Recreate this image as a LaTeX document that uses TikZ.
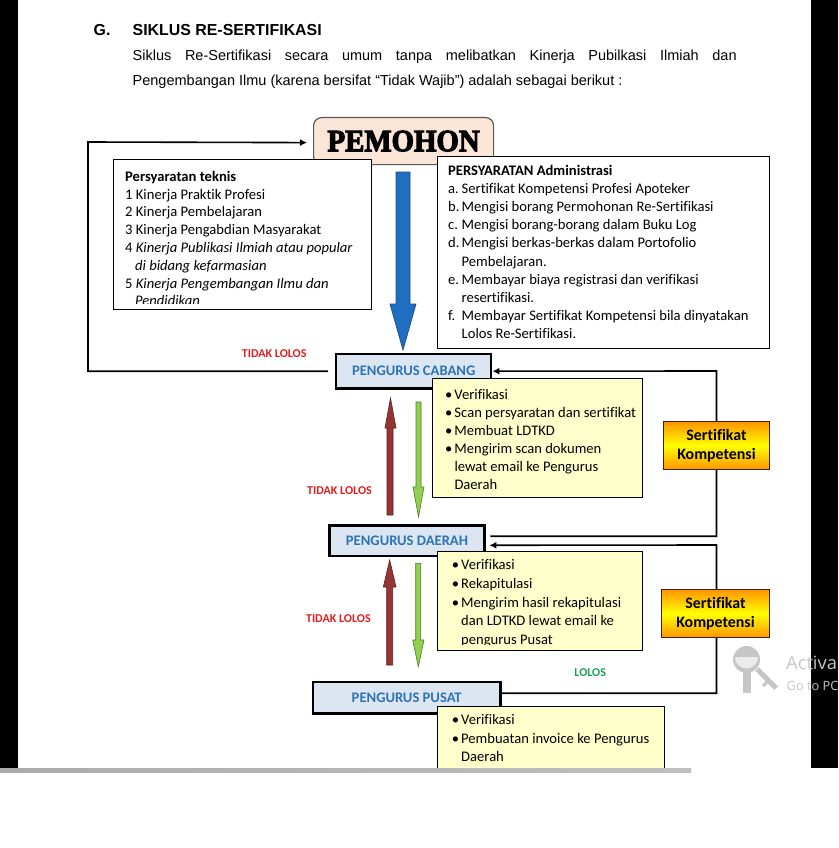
\documentclass[tikz,border=0pt]{standalone}
\usepackage{fontspec}
\setmainfont{Carlito}[Ligatures=NoCommon]
\newfontfamily\hdrfont{Liberation Sans}
\newfontfamily\pemfont{Liberation Serif}[FakeBold=3.5, FakeStretch=0.93]
\newfontfamily\wmfont{Open Sans}
\usetikzlibrary{arrows.meta}
\definecolor{peach}{HTML}{FBE5D6}
\definecolor{lblue}{HTML}{DCE6F2}
\definecolor{tblue}{HTML}{2E74B5}
\definecolor{noteY}{HTML}{FFFFCC}
\definecolor{tred}{HTML}{E02020}
\definecolor{tgreen}{HTML}{1E9E55}
\definecolor{arrblue}{HTML}{1F6EC1}
\definecolor{arrblueD}{HTML}{1B4F80}
\definecolor{arrred}{HTML}{943634}
\definecolor{arrredD}{HTML}{5E2020}
\definecolor{arrgreen}{HTML}{92D050}
\definecolor{arrgreenD}{HTML}{4F7A28}
\definecolor{sorange}{HTML}{FF9400}
\definecolor{wmgray}{HTML}{C6C6C6}
\newcommand\bulit{\makebox[9.3pt][l]{•}}
\begin{document}
\begin{tikzpicture}[x=1pt,y=-1pt,
  conn/.style={line width=1.6pt, draw=black},
  arr/.style={-{Latex[length=7pt,width=7pt]}},
  bluebox/.style={draw=black, line width=2.4pt, fill=lblue, text=tblue,
    font=\bfseries\fontsize{14.6}{17}\selectfont, inner sep=0pt, anchor=north west},
  notebox/.style={draw=black, line width=1.1pt, fill=noteY, inner sep=0pt, anchor=north west},
  txtbox/.style={draw=black, line width=1.2pt, fill=white, inner sep=0pt, anchor=north west},
  bodytext/.style={align=left, inner sep=0pt, anchor=north west},
  sertbox/.style={draw=black!75!orange, line width=1pt, top color=sorange, bottom color=sorange,
    middle color=yellow, font=\bfseries\fontsize{15.9}{19.4}\selectfont, align=center,
    inner sep=0pt, anchor=north west},
  lbl/.style={font=\bfseries\fontsize{12}{14}\selectfont, inner sep=0pt},
  redarrow/.style={fill=arrred, draw=arrredD, line width=0.6pt},
  greenarrow/.style={fill=arrgreen, draw=arrgreenD, line width=0.6pt},
  bluearrow/.style={fill=arrblue, draw=arrblueD, line width=0.7pt}
]
\useasboundingbox (0,0) rectangle (838,848);
\clip (0,0) rectangle (838,848);
\fill[white] (0,0) rectangle (838,848);
\fill[black] (0,0) rectangle (18,768);
\fill[black] (811,0) rectangle (838,768);

% header
\node[inner sep=0pt, anchor=base west, font=\hdrfont\bfseries\fontsize{15.9}{19}\selectfont] (g) at (93.5,35.3) {G.};
\node[inner sep=0pt, anchor=base west, font=\hdrfont\bfseries\fontsize{15.9}{19}\selectfont] (title) at (132.5,35.3) {SIKLUS RE-SERTIFIKASI};
\node[inner sep=0pt, anchor=base west, font=\hdrfont\fontsize{14.5}{18}\selectfont] (l1) at (132.5,60.5)
  {\makebox[604pt][s]{Siklus Re-Sertifikasi secara umum tanpa melibatkan Kinerja Pubilkasi Ilmiah dan}};
\node[inner sep=0pt, anchor=base west, font=\hdrfont\fontsize{14.5}{18}\selectfont] (l2) at (132.5,85.3)
  {Pengembangan Ilmu (karena bersifat “Tidak Wajib”) adalah sebagai berikut :};

% PEMOHON
\node[draw=black!65, line width=1.2pt, fill=peach, rounded corners=8pt, minimum width=180pt,
  minimum height=47pt, inner sep=0pt, anchor=north west,
  font=\pemfont\bfseries\fontsize{31}{31}\selectfont] (pem) at (313,117) {PEMOHON};

% Persyaratan teknis
\node[txtbox, minimum width=258pt, minimum height=150pt] (tek) at (113,159) {};
\begin{scope}
\clip (114,160) rectangle (370,303.5);
\node[bodytext, font=\fontsize{14.6}{17.8}\selectfont] (tekt) at (125,181-12)
 {\rule{0pt}{12pt}\textbf{Persyaratan teknis}\\
  1 Kinerja Praktik Profesi\\
  2 Kinerja Pembelajaran\\
  3 Kinerja Pengabdian Masyarakat\\
  4 \textit{Kinerja Publikasi Ilmiah atau popular}\\
  \hspace*{10pt}\textit{di bidang kefarmasian}\\
  5 \textit{Kinerja Pengembangan Ilmu dan}\\
  \hspace*{10pt}\textit{Pendidikan}};
\end{scope}

% Persyaratan administrasi
\node[txtbox, minimum width=332pt, minimum height=192pt] (adm) at (437,156) {};
\node[bodytext, font=\fontsize{14.6}{18.07}\selectfont] (admt) at (448,175.5-12)
 {\rule{0pt}{12pt}\textbf{PERSYARATAN Administrasi}\\
  \makebox[13.5pt][l]{a.}Sertifikat Kompetensi Profesi Apoteker\\
  \makebox[13.5pt][l]{b.}Mengisi borang Permohonan Re-Sertifikasi\\
  \makebox[13.5pt][l]{c.}Mengisi borang-borang dalam Buku Log\\
  \makebox[13.5pt][l]{d.}Mengisi berkas-berkas dalam Portofolio\\
  \hspace*{13.5pt}Pembelajaran.\\
  \makebox[13.5pt][l]{e.}Membayar biaya registrasi dan verifikasi\\
  \hspace*{13.5pt}resertifikasi.\\
  \makebox[13.5pt][l]{f.}Membayar Sertifikat Kompetensi bila dinyatakan\\
  \hspace*{13.5pt}Lolos Re-Sertifikasi.};

% blue arrow
\filldraw[bluearrow] (396,172) -- (410,172) -- (410,304) -- (416,304) -- (403,350) -- (390,304) -- (396,304) -- cycle;

% process boxes
\node[bluebox, minimum width=155pt, minimum height=34.6pt] (cab) at (335,352.7) {PENGURUS CABANG};
\node[bluebox, minimum width=155pt, minimum height=30.7pt] (dae) at (328.3,524.3) {PENGURUS DAERAH};
\node[bluebox, minimum width=187.6pt, minimum height=31.6pt] (pus) at (311.7,680.7) {PENGURUS PUSAT};

% connectors
\draw[conn, arr] ([xshift=-7pt]cab.west) -| (88,142) -- ([xshift=-6pt,yshift=-1.5pt]pem.west);
\draw[conn, arr] ([xshift=4.7pt,yshift=4.6pt]dae.east) -| (716.5,371) -- (cab.east);
\draw[conn, arr] ([yshift=4.5pt]pus.east) -| (716.5,545) -- ([xshift=3.7pt,yshift=-4.4pt]dae.east);

% certificate boxes
\node[sertbox, minimum width=106pt, minimum height=48pt] (s1) at (663,421) {Sertifikat\\Kompetensi};
\node[sertbox, minimum width=108pt, minimum height=48pt] (s2) at (661,589) {Sertifikat\\Kompetensi};

% notes
\node[notebox, minimum width=210pt, minimum height=119pt] (cabn) at (432,378) {};
\node[bodytext, font=\fontsize{14.6}{18.15}\selectfont] (cabnt) at (445,398.8-12)
 {\rule{0pt}{12pt}\bulit Verifikasi\\
  \bulit Scan persyaratan dan sertifikat\\
  \bulit Membuat LDTKD\\
  \bulit Mengirim scan dokumen\\
  \hspace*{9.3pt}lewat email ke Pengurus\\
  \hspace*{9.3pt}Daerah};

\node[notebox, minimum width=204.4pt, minimum height=99.3pt] (daen) at (437.3,550.7) {};
\begin{scope}
\clip (438,551.5) rectangle (641,644);
\node[bodytext, font=\fontsize{14.6}{18.7}\selectfont] (daent) at (451.7,569.5-12)
 {\rule{0pt}{12pt}\bulit Verifikasi\\
  \bulit Rekapitulasi\\
  \bulit Mengirim hasil rekapitulasi\\
  \hspace*{9.3pt}dan LDTKD lewat email ke\\
  \hspace*{9.3pt}pengurus Pusat};
\end{scope}

\begin{scope}
\clip (0,0) rectangle (838,768);
\node[notebox, minimum width=227pt, minimum height=90pt] (pusn) at (437.3,705.7) {};
\node[bodytext, font=\fontsize{14.6}{18.6}\selectfont] (pusnt) at (451.7,724.5-12)
 {\rule{0pt}{12pt}\bulit Verifikasi\\
  \bulit Pembuatan invoice ke Pengurus\\
  \hspace*{9.3pt}Daerah};
\end{scope}

% red / green arrows
\filldraw[redarrow] (387,515) -- (387,428) -- (385,428) -- (390.5,398) -- (396,428) -- (393,428) -- (393,515) -- cycle;
\filldraw[greenarrow] (416,402) -- (421,402) -- (421,487) -- (424,487) -- (418.5,517) -- (413,487) -- (416,487) -- cycle;
\filldraw[redarrow] (386.7,665) -- (386.7,587) -- (383.3,587) -- (389.7,560) -- (396,587) -- (392.7,587) -- (392.7,665) -- cycle;
\filldraw[greenarrow] (415.7,563.3) -- (420.7,563.3) -- (420.7,640) -- (424,640) -- (418.3,666.7) -- (412.7,640) -- (415.7,640) -- cycle;

% labels
\node[lbl, text=tred] (tl1) at (274.2,354) {TIDAK LOLOS};
\node[lbl, text=tred] (tl2) at (339.5,491) {TIDAK LOLOS};
\node[lbl, text=tred] (tl3) at (338.4,619) {TIDAK LOLOS};
\node[lbl, text=tgreen] (lol) at (590.2,672.7) {LOLOS};

% bottom page edge
\fill[white] (0,768) rectangle (838,848);
\shade[left color=black!33, right color=black!25] (0,768) rectangle (691,772);

% watermark
\fill[wmgray] (746.5,659.5) circle (13.5);
\fill[black!8] (735,657) arc[start angle=180, end angle=0, radius=11.5] -- cycle;
\fill[wmgray] (742.5,670) rectangle (750.5,693);
\draw[wmgray, line width=5pt] (757,669) -- (776,688);
\draw[wmgray, line width=3pt] (768,681) -- (763,686);
\node[inner sep=0pt, anchor=base west, text=wmgray, font=\wmfont\fontsize{18.3}{22}\selectfont] (wm1) at (786,669.5) {Activa};
\node[inner sep=0pt, anchor=base west, text=wmgray, font=\wmfont\fontsize{12.8}{16}\selectfont] (wm2) at (786.5,690.5) {Go to PC};
\end{tikzpicture}
\end{document}
